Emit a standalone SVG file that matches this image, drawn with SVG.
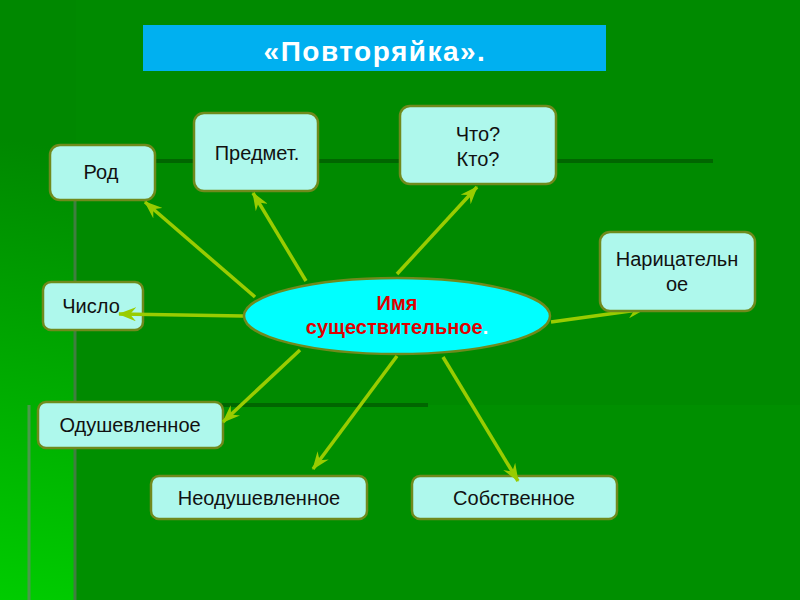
<svg xmlns="http://www.w3.org/2000/svg" width="800" height="600" viewBox="0 0 800 600">
<defs>
<linearGradient id="bgLeft" gradientUnits="userSpaceOnUse" x1="75" y1="150" x2="0" y2="600">
<stop offset="0" stop-color="#008800"/>
<stop offset="1" stop-color="#00cc00"/>
</linearGradient>
<marker id="arr" viewBox="0 0 18 14" refX="17" refY="7" markerWidth="18" markerHeight="14" markerUnits="userSpaceOnUse" orient="auto">
<path d="M0,0 L18,7 L0,14 L6,7 Z" fill="#99cc00"/>
</marker>
<style>
.box{fill:#aef8ec;stroke:#708a1c;stroke-width:2.5}
.lbl{font-family:"Liberation Sans",Arial,sans-serif;font-size:20px;fill:#111;text-anchor:middle}
.con{stroke:#99cc00;stroke-width:3.5;fill:none;marker-end:url(#arr)}
.ctr{font-family:"Liberation Sans",Arial,sans-serif;font-size:20px;font-weight:bold;fill:#e00000;text-anchor:middle}
</style>
</defs>
<g id="background">
<rect x="0" y="0" width="800" height="600" fill="#008a00"/>
<rect x="0" y="0" width="76" height="600" fill="url(#bgLeft)"/>
<rect x="76" y="405" width="724" height="195" fill="#008f00"/>
<line x1="155" y1="161" x2="713" y2="161" stroke="#006600" stroke-width="4"/>
<line x1="76" y1="405" x2="428" y2="405" stroke="#006600" stroke-width="4"/>
<line x1="75" y1="200" x2="75" y2="600" stroke="#3f7f3f" stroke-width="3"/>
<line x1="29" y1="405" x2="29" y2="600" stroke="#4a9a4a" stroke-width="3"/>
</g>
<g id="title">
<rect x="143" y="25" width="463" height="46" fill="#00b0f0"/>
<text x="375" y="61" font-family="Liberation Sans,Arial,sans-serif" font-size="28" font-weight="bold" letter-spacing="1.5" fill="#ffffff" text-anchor="middle">«Повторяйка».</text>
</g>
<g id="rod">
<rect class="box" x="50" y="145" width="105" height="55" rx="10"/>
<text class="lbl" x="101" y="179">Род</text>
</g>
<g id="predmet">
<rect class="box" x="194" y="113" width="124" height="78" rx="10"/>
<text class="lbl" x="257" y="160">Предмет.</text>
</g>
<g id="chto-kto">
<rect class="box" x="400" y="106" width="156" height="78" rx="10"/>
<text class="lbl" x="478" y="141">Что?</text>
<text class="lbl" x="478" y="166">Кто?</text>
</g>
<g id="chislo">
<rect class="box" x="43" y="282" width="100" height="48" rx="8"/>
<text class="lbl" x="91" y="313">Число</text>
</g>
<g id="odushevlennoe">
<rect class="box" x="38" y="402" width="185" height="46" rx="8"/>
<text class="lbl" x="130" y="432">Одушевленное</text>
</g>
<g id="neodushevlennoe">
<rect class="box" x="151" y="476" width="216" height="43" rx="8"/>
<text class="lbl" x="259" y="505">Неодушевленное</text>
</g>
<g id="sobstvennoe">
<rect class="box" x="412" y="476" width="205" height="43" rx="8"/>
<text class="lbl" x="514" y="505">Собственное</text>
</g>
<g id="connectors">
<line class="con" x1="255" y1="297" x2="145" y2="202"/>
<line class="con" x1="306" y1="281" x2="253" y2="193"/>
<line class="con" x1="397" y1="274" x2="477" y2="187"/>
<line class="con" x1="551" y1="322" x2="645" y2="309"/>
<line class="con" x1="243" y1="316" x2="119" y2="314"/>
<line class="con" x1="300" y1="350" x2="223" y2="422"/>
<line class="con" x1="397" y1="356" x2="313" y2="469"/>
<line class="con" x1="443" y1="357" x2="518" y2="481"/>
</g>
<g id="naritsatelnoe">
<rect class="box" x="600" y="232" width="155" height="79" rx="10"/>
<text class="lbl" x="677" y="266">Нарицательн</text>
<text class="lbl" x="677" y="291">ое</text>
</g>
<g id="center">
<ellipse cx="397" cy="316" rx="153" ry="38" fill="#00ffff" stroke="#708a1c" stroke-width="2.5"/>
<text class="ctr" x="397" y="310">Имя</text>
<text class="ctr" x="397" y="334">существительное<tspan fill="#ffffff">.</tspan></text>
</g>
</svg>
